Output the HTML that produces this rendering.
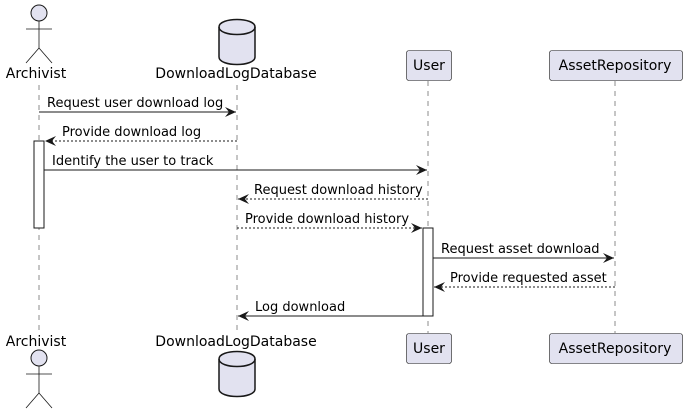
<!DOCTYPE html>
<html><head><style>body{margin:0;background:#fff}svg{display:block}</style></head><body>
<svg width="687" height="414" xmlns="http://www.w3.org/2000/svg" font-family="DejaVu Sans, Liberation Sans, sans-serif">
<defs>
<marker id="a" markerWidth="12" markerHeight="10" refX="11" refY="5" orient="auto" markerUnits="userSpaceOnUse"><path d="M0,0 L11,5 L0,10 L4,5 Z" fill="#181818"/></marker>
</defs>
<g stroke="#181818" stroke-width="0.5" stroke-dasharray="5,5">
<line x1="39" y1="85" x2="39" y2="333"/>
<line x1="237" y1="85" x2="237" y2="333"/>
<line x1="428" y1="81" x2="428" y2="333"/>
<line x1="615" y1="81" x2="615" y2="333"/>
</g>
<g stroke="#181818" stroke-width="0.8" fill="#E2E2F0">
<circle cx="39" cy="13" r="8" stroke-width="1"/>
<line x1="39" y1="21" x2="39" y2="48"/><line x1="26" y1="29" x2="52" y2="29"/>
<line x1="39" y1="48" x2="26" y2="63"/><line x1="39" y1="48" x2="52" y2="63"/>
<circle cx="39" cy="358" r="8" stroke-width="1"/>
<line x1="39" y1="366" x2="39" y2="393"/><line x1="26" y1="374" x2="52" y2="374"/>
<line x1="39" y1="393" x2="26" y2="408"/><line x1="39" y1="393" x2="52" y2="408"/>
</g>
<g stroke="#181818" stroke-width="1.5" fill="#E2E2F0">
<path d="M219,27 C219,17 255,17 255,27 L255,57 C255,67 219,67 219,57 Z"/>
<path d="M219,27 C219,37 255,37 255,27" fill="none"/>
<path d="M219,359 C219,349 255,349 255,359 L255,389 C255,399 219,399 219,389 Z"/>
<path d="M219,359 C219,369 255,369 255,359" fill="none"/>
</g>
<g stroke="#181818" stroke-width="0.6" fill="#E2E2F0">
<rect x="406.5" y="50.5" width="45" height="30" rx="2.5"/>
<rect x="549.5" y="50.5" width="133" height="30" rx="2.5"/>
<rect x="406.5" y="333.5" width="45" height="30" rx="2.5"/>
<rect x="549.5" y="333.5" width="133" height="30" rx="2.5"/>
</g>
<g stroke="#181818" stroke-width="1" fill="#fff">
<rect x="34" y="141" width="10" height="87"/>
<rect x="423" y="228" width="10" height="88"/>
</g>
<g font-size="14" fill="#000" text-anchor="middle">
<text x="36" y="78">Archivist</text><text x="236" y="78">DownloadLogDatabase</text>
<text x="429" y="70">User</text><text x="615" y="70">AssetRepository</text>
<text x="36" y="346">Archivist</text><text x="236" y="346">DownloadLogDatabase</text>
<text x="429" y="353">User</text><text x="615" y="353">AssetRepository</text>
</g>
<g stroke="#181818" stroke-width="1" fill="none" marker-end="url(#a)">
<line x1="39" y1="112" x2="236" y2="112"/>
<line x1="237" y1="141" x2="45" y2="141" stroke-dasharray="2,2"/>
<line x1="44" y1="170" x2="427" y2="170"/>
<line x1="428" y1="199" x2="238" y2="199" stroke-dasharray="2,2"/>
<line x1="237" y1="228" x2="422" y2="228" stroke-dasharray="2,2"/>
<line x1="433" y1="258" x2="614" y2="258"/>
<line x1="615" y1="287" x2="434" y2="287" stroke-dasharray="2,2"/>
<line x1="423" y1="316" x2="238" y2="316"/>
</g>
<g font-size="13" fill="#000">
<text x="47" y="107">Request user download log</text>
<text x="62" y="136">Provide download log</text>
<text x="52" y="165">Identify the user to track</text>
<text x="254" y="194">Request download history</text>
<text x="245" y="223">Provide download history</text>
<text x="441" y="253">Request asset download</text>
<text x="450" y="282">Provide requested asset</text>
<text x="255" y="311">Log download</text>
</g>
</svg>
</body></html>
